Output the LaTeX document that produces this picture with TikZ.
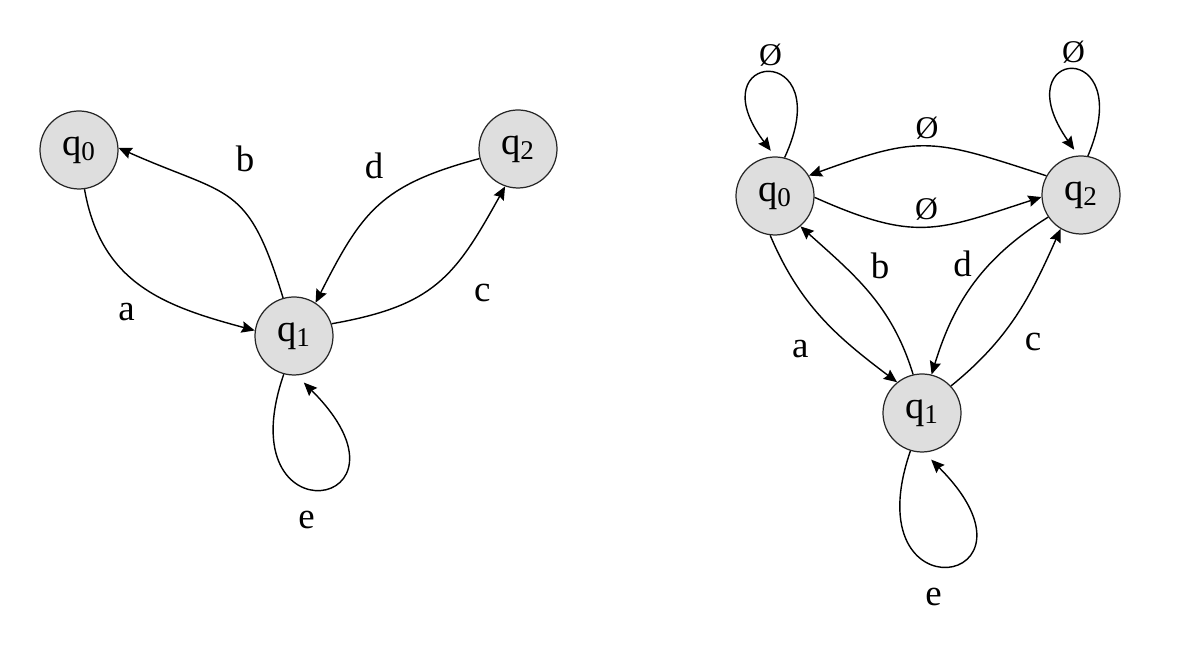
\documentclass[tikz,border=0pt]{standalone}
\usepackage{fontspec}
\setmainfont{Liberation Serif}
\usetikzlibrary{arrows.meta}

\begin{document}
\begin{tikzpicture}[state/.style={circle,draw=black!85,fill=black!13,line width=0.7pt,minimum size=1.56cm,inner sep=0pt,font=\fontsize{22}{26}\selectfont},
                    lbl/.style={font=\fontsize{21}{25}\selectfont},
                    nullset/.style={font=\fontsize{18}{22}\selectfont},
                    >={Stealth[length=7.5pt,width=6.5pt,inset=1pt]},line width=0.8pt]
\useasboundingbox (0,0) rectangle (23.8,13.2);
\node[state] (q0) at (1.58,10.2)  {q\textsubscript{0}};
\node[state] (q1) at (5.88,6.48)  {q\textsubscript{1}};
\node[state] (q2) at (10.36,10.22) {q\textsubscript{2}};
\draw[->] (q0.-82) to[out=-80,in=165,looseness=1.1] node[lbl,pos=0.5,below left,yshift=-6pt] {a} (q1.172);
\draw[->] (q1.106) to[out=107,in=-24,looseness=1.4] node[lbl,pos=0.5,above right,yshift=11pt] {b} (q0.3);
\draw[->] (q2.194) to[out=195,in=63,looseness=1.2] node[lbl,pos=0.35,above left,xshift=-6pt,yshift=2pt] {d} (q1.57);
\draw[->] (q1.18) to[out=10,in=-119,looseness=1.2] node[lbl,pos=0.6,below right,xshift=9pt,yshift=-5pt] {c} (q2.-109);
\draw[->,shorten >=0.2cm] (q1.-105) .. controls +(-109:3.58) and +(-45:3.8) .. node[lbl,below,xshift=-7pt,yshift=-9pt] {e} (q1.-86);

\node[state] (r0) at (15.5,9.28)  {q\textsubscript{0}};
\node[state] (r1) at (18.44,4.94) {q\textsubscript{1}};
\node[state] (r2) at (21.62,9.3)  {q\textsubscript{2}};
\draw[->,shorten >=0.14cm] (r0.76) .. controls +(65:2.6) and +(127:2.65) .. node[nullset,above] {Ø} (r0.90);
\draw[->,shorten >=0.14cm] (r2.80) .. controls +(67:2.6) and +(125:2.65) .. node[nullset,above] {Ø} (r2.94);
\draw[->] (r2.151) to[out=162,in=20,looseness=1.3] node[nullset,above] {Ø} (r0.31);
\draw[->] (r0.-2) to[out=-24,in=198,looseness=1.25] node[nullset,above] {Ø} (r2.183);
\draw[->] (r0.-97) to[out=-67,in=143] node[lbl,pos=0.5,below left,xshift=-4pt,yshift=-9pt] {a} (r1.129);
\draw[->] (r1.103) to[out=107,in=-42] node[lbl,pos=0.6,right,xshift=4pt,yshift=8pt] {b} (r0.-50);
\draw[->] (r2.-146) to[out=212,in=73] node[lbl,pos=0.4,left,xshift=-4pt,yshift=3pt] {d} (r1.76);
\draw[->] (r1.43) to[out=39,in=-114] node[lbl,pos=0.45,below right,xshift=4pt,yshift=-2pt] {c} (r2.-121);
\draw[->,shorten >=0.2cm] (r1.-107) .. controls +(-109:3.58) and +(-45:3.8) .. node[lbl,below,xshift=-7pt,yshift=-9pt] {e} (r1.-87);
\end{tikzpicture}
\end{document}
